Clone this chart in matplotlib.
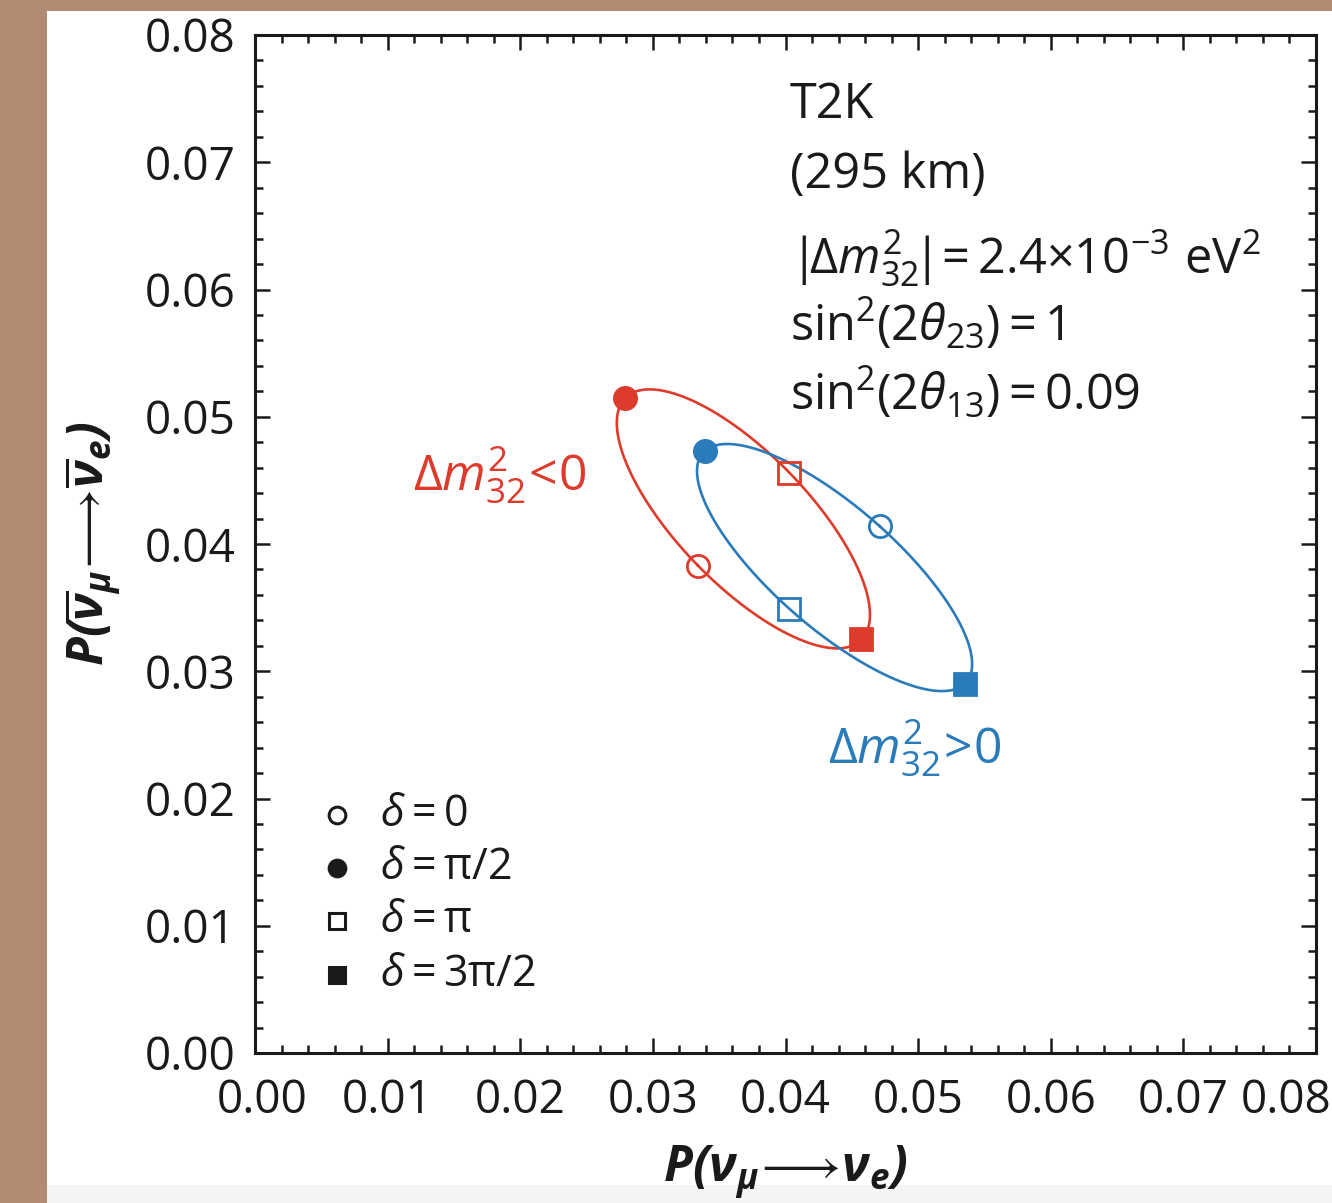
import numpy as np
import matplotlib
matplotlib.use("Agg")
import matplotlib.pyplot as plt
import matplotlib.transforms as mtransforms
from matplotlib.patches import Rectangle

plt.rcParams['font.family'] = ['Open Sans', 'DejaVu Sans']
plt.rcParams['mathtext.fontset'] = 'custom'
plt.rcParams['mathtext.rm'] = 'Open Sans'
plt.rcParams['mathtext.it'] = 'Open Sans:italic'
plt.rcParams['mathtext.bf'] = 'Open Sans:bold'
plt.rcParams['mathtext.bfit'] = 'Open Sans:italic:bold'
plt.rcParams['mathtext.fallback'] = 'stixsans'

# CP phase values at the marked points
delta_labels = [r'$\delta = 0$', r'$\delta = \mathrm{\pi}/2$',
                r'$\delta = \mathrm{\pi}$', r'$\delta = 3\mathrm{\pi}/2$']
delta_markers = ['o', 'o', 's', 's']
delta_filled = [False, True, False, True]

# normal hierarchy (dm32^2 > 0), points at delta = 0, pi/2, pi, 3pi/2
no_x = [0.0471, 0.0339, 0.0403, 0.0535]
no_y = [0.0414, 0.0473, 0.0349, 0.0290]
# inverted hierarchy (dm32^2 < 0)
io_x = [0.0334, 0.0279, 0.0403, 0.0457]
io_y = [0.0383, 0.0515, 0.0456, 0.0325]

RED = '#DD3B2C'
BLUE = '#2A7BB9'
INK = '#1a1a1a'


def ellipse(px, py, n=400):
    # P(delta) = A + B cos(delta) + C sin(delta), fixed by the four points
    t = np.linspace(0, 2 * np.pi, n)
    px, py = np.asarray(px), np.asarray(py)
    ax_, bx, cx = px.mean(), (px[0] - px[2]) / 2, (px[1] - px[3]) / 2
    ay_, by, cy = py.mean(), (py[0] - py[2]) / 2, (py[1] - py[3]) / 2
    return ax_ + bx * np.cos(t) + cx * np.sin(t), ay_ + by * np.cos(t) + cy * np.sin(t)


fig = plt.figure(figsize=(13.32, 12.03), dpi=100, facecolor='#B08B72')
fig.patches.append(Rectangle((47 / 1332, 0), 1, 1 - 11 / 1203, transform=fig.transFigure,
                             facecolor='white', edgecolor='none', zorder=-10))
fig.patches.append(Rectangle((47 / 1332, 0), 1, 18 / 1203, transform=fig.transFigure,
                             facecolor='#F4F4F4', edgecolor='none', zorder=-9))

ax = fig.add_axes([255 / 1332, 1 - 1053 / 1203, 1061 / 1332, 1018 / 1203])
ax.set_xlim(0, 0.08)
ax.set_ylim(0, 0.08)

for xs, ys, col in [(io_x, io_y, RED), (no_x, no_y, BLUE)]:
    ex, ey = ellipse(xs, ys)
    ax.plot(ex, ey, color=col, lw=1.9, zorder=2)
    for x, y, m, f in zip(xs, ys, delta_markers, delta_filled):
        ms = 16 if m == 'o' else 16.5
        ax.plot(x, y, marker=m, ms=ms, mew=2.0, mec=col,
                mfc=col if f else 'none', zorder=3)

# annotation block
tx = 0.504
fs = 35
ax.text(tx, 0.931, 'T2K', transform=ax.transAxes, fontsize=fs, va='center', color=INK)
ax.text(tx, 0.8625, '(295 km)', transform=ax.transAxes, fontsize=fs, va='center', color=INK)
ax.text(tx, 0.781, r'$|\!\Delta m^2_{32}\!|\! = 2.4{\times}10^{-3}\ \mathrm{eV}^2$',
        transform=ax.transAxes, fontsize=fs, va='center', color=INK)
ax.text(tx, 0.715, r'$\mathrm{sin}^2(2\theta_{23}) = 1$',
        transform=ax.transAxes, fontsize=fs, va='center', color=INK)
ax.text(tx, 0.648, r'$\mathrm{sin}^2(2\theta_{13}) = 0.09$',
        transform=ax.transAxes, fontsize=fs, va='center', color=INK)

ax.text(0.149, 0.568, r'$\Delta m^2_{32}\!<\!0$', transform=ax.transAxes,
        fontsize=36, va='center', color=RED)
ax.text(0.540, 0.2996, r'$\Delta m^2_{32}\!>\!0$', transform=ax.transAxes,
        fontsize=36, va='center', color=BLUE)

# legend, drawn by hand
leg_y = [0.2338, 0.1817, 0.1297, 0.0766]
for yy, lab, m, f in zip(leg_y, delta_labels, delta_markers, delta_filled):
    ax.plot(0.0773, yy, marker=m, ms=12 if m == 'o' else 11, mew=2.2, mec=INK,
            mfc=INK if f else 'none', transform=ax.transAxes, clip_on=False)
    ax.text(0.118, yy, lab, transform=ax.transAxes, fontsize=31, va='center', color=INK)

ax.set_xlabel(r'$\mathbfit{P(\nu_\mu}\!\longrightarrow\!\mathbfit{\nu_e)}$',
              fontsize=36, labelpad=14, color=INK)
ax.set_ylabel(r'$\mathbfit{P(\overline{\nu}_\mu}\!\longrightarrow\!\mathbfit{\overline{\nu}_e)}$',
              fontsize=36, labelpad=15, color=INK)

ticks = np.arange(0, 0.081, 0.01)
ax.set_xticks(ticks)
ax.set_yticks(ticks)
ax.set_xticklabels([f'{t:.2f}' for t in ticks])
ax.set_yticklabels([f'{t:.2f}' for t in ticks])
ax.set_xticks(np.arange(0, 0.081, 0.002), minor=True)
ax.set_yticks(np.arange(0, 0.081, 0.002), minor=True)
ax.tick_params(which='both', direction='in', top=True, right=True, width=1.8, color=INK)
ax.tick_params(which='major', length=11, labelsize=33, labelcolor=INK)
ax.tick_params(which='minor', length=6)
ax.tick_params(axis='x', which='major', pad=18)
ax.tick_params(axis='y', which='major', pad=14)
for s in ax.spines.values():
    s.set_linewidth(2.2)
    s.set_color(INK)

# outer x labels nudged to stay inside the panel
xl = ax.get_xticklabels()
xl[-1].set_transform(xl[-1].get_transform() + mtransforms.ScaledTranslation(-0.30, 0, fig.dpi_scale_trans))
xl[0].set_transform(xl[0].get_transform() + mtransforms.ScaledTranslation(0.07, 0, fig.dpi_scale_trans))

fig.savefig('out.png', dpi=100, facecolor=fig.get_facecolor())
